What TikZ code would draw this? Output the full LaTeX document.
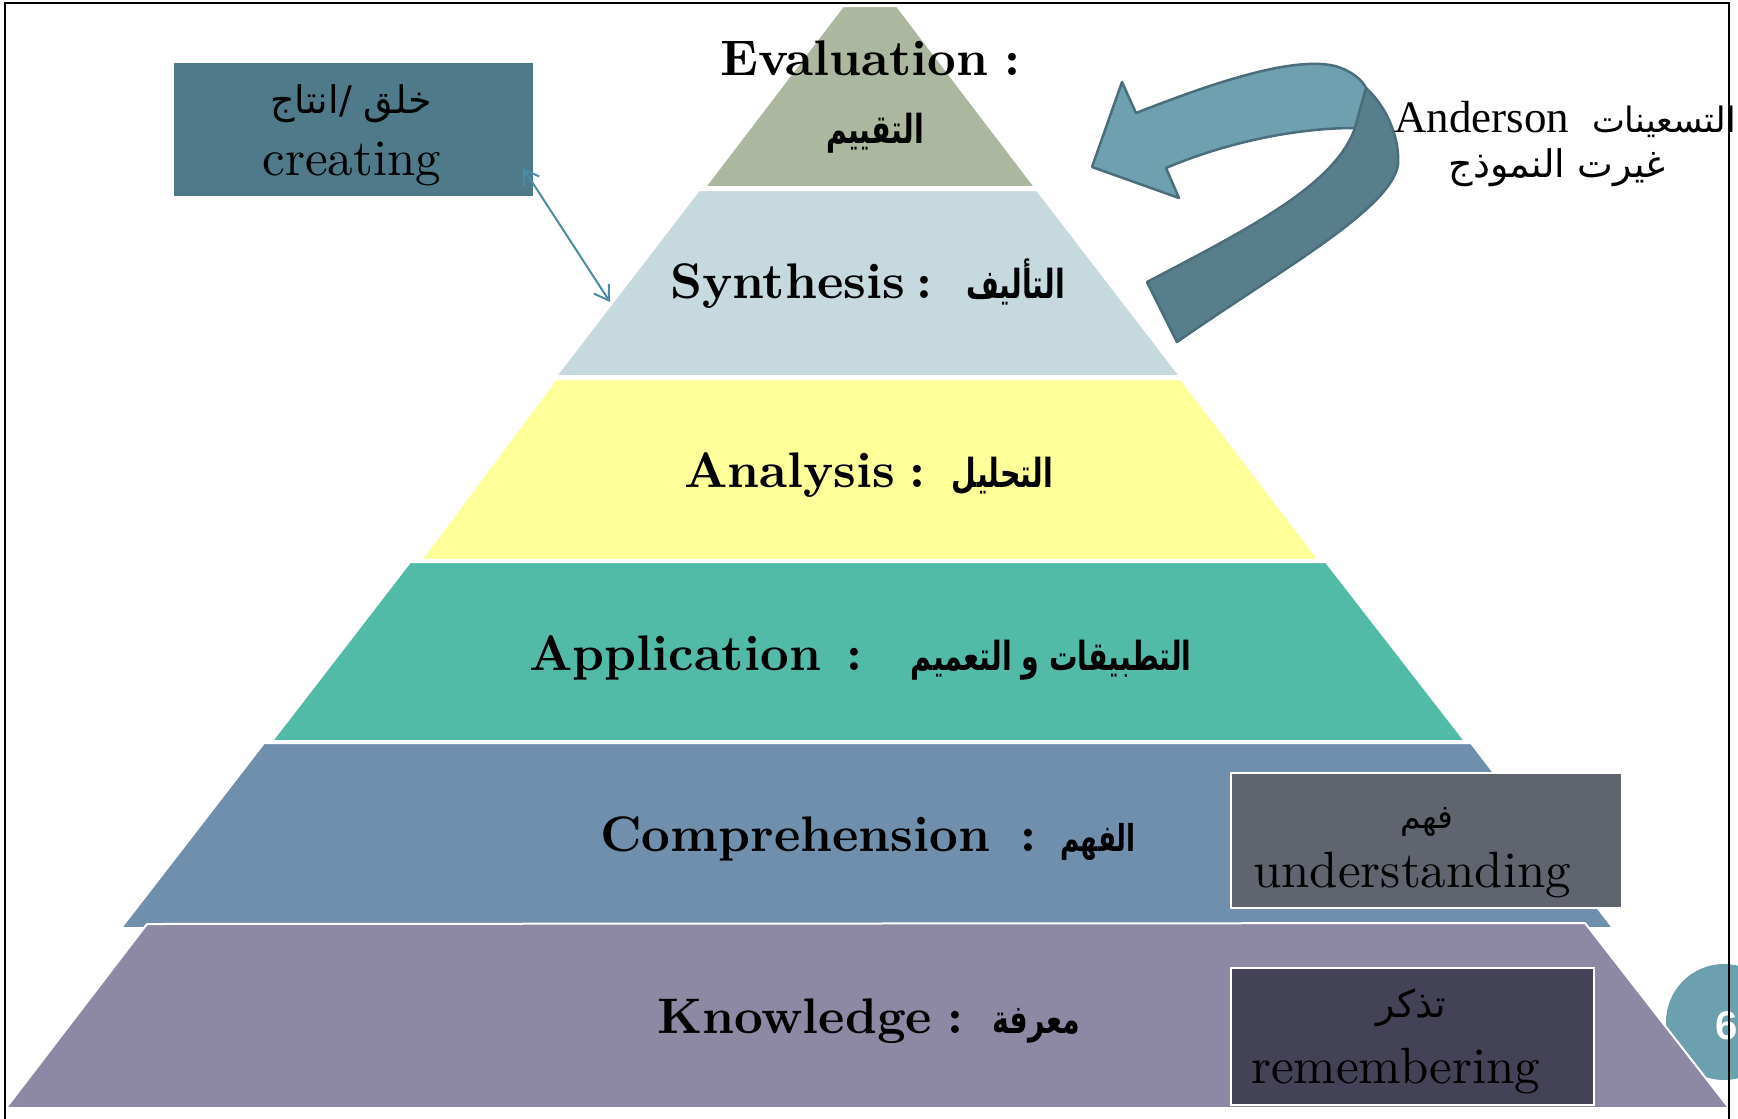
\documentclass[tikz,border=0pt]{standalone}
\usepackage{fontspec}
\usetikzlibrary{arrows.meta}
\TeXXeTstate=1
\newfontfamily\arfont[Script=Arabic]{DejaVu Sans}
\newfontfamily\arbold[Script=Arabic, FakeStretch=0.71]{DejaVu Sans Bold}
\newfontfamily\tnrfont{Liberation Serif}
\newfontfamily\arialfont{Liberation Sans}
\newfontfamily\lmbold{lmroman10-bold}[Extension=.otf]
\newfontfamily\lmreg{lmroman10-regular}[Extension=.otf]
\definecolor{evalcol}{HTML}{ABB79E}
\definecolor{syncol}{HTML}{C5D9DF}
\definecolor{anacol}{HTML}{FFFF99}
\definecolor{appcol}{HTML}{52BBA8}
\definecolor{comcol}{HTML}{6F8FAD}
\definecolor{knocol}{HTML}{8D89A5}
\definecolor{creacol}{HTML}{4E7A8A}
\definecolor{undcol}{HTML}{60646E}
\definecolor{remcol}{HTML}{434256}
\definecolor{circcol}{HTML}{6DA0AF}
\definecolor{arrlight}{HTML}{6EA0B0}
\definecolor{arrdark}{HTML}{587E8C}
\definecolor{arrline}{HTML}{4A6E7B}
\definecolor{dblcol}{HTML}{4B8CA5}
\begin{document}
\begin{tikzpicture}[x=1pt,y=-1pt,
  layer/.style={draw=white, line width=2pt},
  lab/.style={inner sep=0pt, anchor=base west, font=\fontsize{50}{56}\selectfont\lmbold},
  colonlab/.style={inner sep=0pt, anchor=base, font=\fontsize{50}{56}\selectfont\lmbold},
  arlab/.style={inner sep=0pt, anchor=base east, font=\fontsize{40}{46}\selectfont\arbold},
  arreg/.style={inner sep=0pt, anchor=base, font=\fontsize{38}{44}\selectfont\arfont},
  enreg/.style={inner sep=0pt, anchor=base west, font=\fontsize{51}{58}\selectfont\lmreg},
  sidebox/.style={draw=white, line width=2.5pt, inner sep=0pt},
  ribbon/.style={draw=arrline, line width=2.5pt, line join=round},
  dbl/.style={draw=dblcol, line width=2pt, {Straight Barb[length=14pt,width=18pt]}-{Straight Barb[length=14pt,width=18pt]}}
]
\useasboundingbox (0,0) rectangle (1738,1119);
\clip (0,0) rectangle (1738,1119);
\fill[white] (0,0) rectangle (1738,1119);

% page number circle (behind the pyramid)
\fill[circcol] (1724,1022) circle[radius=58];
\node[inner sep=0pt, text=white, font=\fontsize{40}{48}\selectfont\arialfont\bfseries] (pgnum) at (1727,1026) {6};

% pyramid layers
\path[layer, fill=evalcol] (843,6) -- (897,6) -- (1035,187) -- (705,187) -- cycle;
\path[layer, fill=syncol] (699,190) -- (1037,190) -- (1180,376) -- (556,376) -- cycle;
\path[layer, fill=anacol] (556,379) -- (1181,379) -- (1319,560) -- (421,560) -- cycle;
\path[layer, fill=appcol] (410,562) -- (1326,562) -- (1465,741) -- (272,741) -- cycle;
\path[layer, fill=comcol] (264,743) -- (1471,743) -- (1613,928) -- (121,928) -- cycle;
\path[layer, fill=knocol] (147,924) -- (1585,923) -- (1729,1108) -- (6,1108) -- cycle;

% level labels
\node[lab] (evalt) at (720,75) {Evaluation};
\node[colonlab] (evalk) at (1012,75) {:};
\node[arlab, anchor=base] (evala) at (875,143) {\beginR التقييم\endR};

\node[lab] (synt) at (670,298) {Synthesis};
\node[colonlab] (synk) at (924,298) {:};
\node[arlab] (syna) at (1065,298) {\beginR التأليف\endR};

\node[lab] (anat) at (684,487) {Analysis};
\node[colonlab] (anak) at (917,487) {:};
\node[arlab] (anaa) at (1053,487) {\beginR التحليل\endR};

\node[lab] (appt) at (529,670) {Application};
\node[colonlab] (appk) at (854,670) {:};
\node[arlab] (appa) at (1192,670) {\beginR التطبيقات و التعميم\endR};

\node[lab] (comt) at (600,851) {Comprehension};
\node[colonlab] (comk) at (1028,851) {:};
\node[arlab, font=\fontsize{37}{42}\selectfont\arbold] (coma) at (1136,851) {\beginR الفهم\endR};

\node[lab] (knot) at (657,1033) {Knowledge};
\node[colonlab] (knok) at (955,1033) {:};
\node[arlab] (knoa) at (1080,1033) {\beginR معرفة\endR};

% creating box
\node[sidebox, draw=none, fill=creacol, minimum width=359pt, minimum height=133pt] (create) at (353.5,129.5) {};
\node[arreg] (createa) at (351,113) {\beginR خلق /انتاج\endR};
\node[enreg, anchor=base] (createe) at (352,175) {creating};
\coordinate (ca) at (523,168);
\coordinate (cb) at (610,302);
\draw[dbl] (ca) -- (cb);

% understanding box
\node[sidebox, fill=undcol, minimum width=391pt, minimum height=135pt] (under) at (1426.5,840.5) {};
\node[arreg, font=\fontsize{33}{40}\selectfont\arfont] (undera) at (1427,828) {\beginR فهم\endR};
\node[enreg] (undere) at (1253,887) {understanding};

% remembering box
\node[sidebox, fill=remcol, minimum width=363pt, minimum height=137pt] (remem) at (1412.5,1036.5) {};
\node[arreg] (rema) at (1411,1017) {\beginR تذكر\endR};
\node[enreg] (reme) at (1251,1083) {remembering};

% curved ribbon arrow
\path[ribbon, fill=arrlight] (1092,167) -- (1122,82) -- (1136,113)
  .. controls (1200,88) and (1290,55) .. (1335,66)
  .. controls (1352,71) and (1362,80) .. (1366,88)
  -- (1355,128)
  .. controls (1290,128) and (1220,145) .. (1166,168)
  -- (1179,198) -- cycle;
\path[ribbon, fill=arrdark] (1366,88)
  .. controls (1388,108) and (1400,140) .. (1398,165)
  .. controls (1390,210) and (1280,270) .. (1177,342)
  -- (1147,282)
  .. controls (1250,228) and (1335,185) .. (1355,128) -- cycle;

% Anderson note
\node[inner sep=0pt, anchor=base west, font=\fontsize{45}{50}\selectfont\tnrfont] (andt) at (1394,132) {Anderson};
\node[arreg, anchor=base east, font=\fontsize{35}{40}\selectfont\arfont] (anda) at (1736,132) {\beginR التسعينات\endR};
\node[arreg] (andb) at (1557,177) {\beginR غيرت النموذج\endR};

% frame
\draw[black, line width=2pt] (5,1119) -- (5,3) -- (1729,3) -- (1729,1119);
\end{tikzpicture}
\end{document}
